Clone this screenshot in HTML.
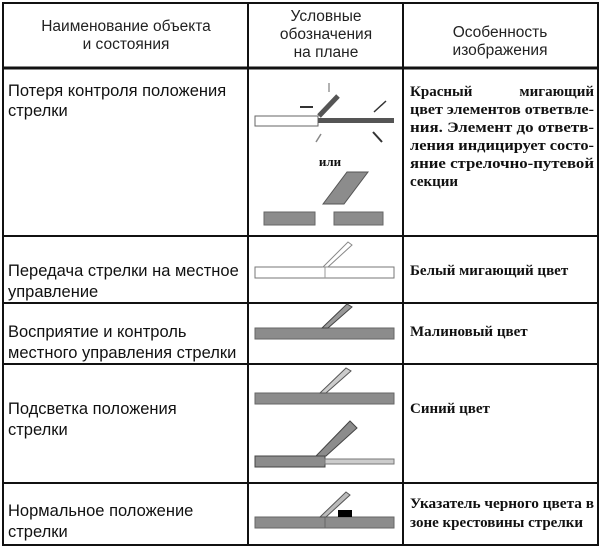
<!DOCTYPE html>
<html><head><meta charset="utf-8"><style>
html,body{margin:0;padding:0;background:#fff}
svg{display:block}
.h{font-family:"Liberation Sans","DejaVu Sans",sans-serif;font-size:15.5px;fill:#222}
.a{font-family:"Liberation Sans","DejaVu Sans",sans-serif;font-size:16.5px;fill:#111}
.c{font-family:"Liberation Serif","DejaVu Serif",serif;font-size:15px;font-weight:bold;fill:#111}
</style></head><body>
<svg width="602" height="548" viewBox="0 0 602 548" xmlns="http://www.w3.org/2000/svg">
<rect width="602" height="548" fill="#fff"/>
<g stroke="#111" stroke-width="2" fill="none">
<rect x="3" y="3" width="595" height="542"/>
<line x1="248" y1="3" x2="248" y2="545"/>
<line x1="403" y1="3" x2="403" y2="545"/>
<line x1="3" y1="68" x2="598" y2="68" stroke-width="3"/>
<line x1="3" y1="236" x2="598" y2="236"/>
<line x1="3" y1="303" x2="598" y2="303"/>
<line x1="3" y1="364" x2="598" y2="364"/>
<line x1="3" y1="483" x2="598" y2="483"/>
</g>
<g class="h" text-anchor="middle">
<text x="126" y="31">Наименование объекта</text>
<text x="126" y="49">и состояния</text>
<text x="326" y="21">Условные</text>
<text x="326" y="39">обозначения</text>
<text x="326" y="57">на плане</text>
<text x="500" y="37">Особенность</text>
<text x="500" y="55">изображения</text>
</g>
<g class="a">
<text x="8" y="96">Потеря контроля положения</text>
<text x="8" y="116">стрелки</text>
<text x="8" y="276">Передача стрелки на местное</text>
<text x="8" y="297">управление</text>
<text x="8" y="337">Восприятие и контроль</text>
<text x="8" y="358">местного управления стрелки</text>
<text x="8" y="414">Подсветка положения</text>
<text x="8" y="435">стрелки</text>
<text x="8" y="516">Нормальное положение</text>
<text x="8" y="537">стрелки</text>
</g>
<g class="c">
<text x="410" y="96">Красный</text>
<text x="594" y="96" text-anchor="end">мигающий</text>
<text x="410" y="114" textLength="184" lengthAdjust="spacingAndGlyphs">цвет элементов ответвле-</text>
<text x="410" y="132" textLength="184" lengthAdjust="spacingAndGlyphs">ния. Элемент до ответв-</text>
<text x="410" y="150" textLength="184" lengthAdjust="spacingAndGlyphs">ления индицирует состо-</text>
<text x="410" y="168" textLength="184" lengthAdjust="spacingAndGlyphs">яние стрелочно-путевой</text>
<text x="410" y="186">секции</text>
<text x="410" y="275">Белый мигающий цвет</text>
<text x="410" y="336">Малиновый цвет</text>
<text x="410" y="413">Синий цвет</text>
<text x="410" y="508" textLength="184" lengthAdjust="spacingAndGlyphs">Указатель черного цвета в</text>
<text x="410" y="527">зоне крестовины стрелки</text>
</g>
<rect x="255" y="116" width="63" height="10" fill="#fff" stroke="#666" stroke-width="1"/>
<rect x="318" y="118" width="76" height="5" fill="#555"/>
<line x1="319" y1="116" x2="338" y2="96" stroke="#555" stroke-width="5"/>
<g stroke="#333" stroke-width="1.5">
<line x1="300" y1="107" x2="313" y2="107" stroke-width="2"/>
<line x1="329" y1="83" x2="329" y2="92" stroke="#999"/>
<line x1="374" y1="112" x2="386" y2="101"/>
<line x1="373" y1="132" x2="382" y2="142" stroke-width="2"/>
<line x1="316" y1="142" x2="321" y2="134" stroke="#888"/>
</g>
<text x="330" y="166" text-anchor="middle" class="c" style="font-size:13px">или</text>
<polygon points="323,204 347,172 368,172 344,204" fill="#8c8c8c" stroke="#555" stroke-width="1"/>
<rect x="264" y="212" width="51" height="13" fill="#8c8c8c" stroke="#666" stroke-width="1"/>
<rect x="334" y="212" width="49" height="13" fill="#8c8c8c" stroke="#666" stroke-width="1"/>
<rect x="255" y="267" width="139" height="11" fill="#fff" stroke="#777" stroke-width="1"/>
<line x1="325" y1="267" x2="325" y2="278" stroke="#999" stroke-width="1"/>
<polygon points="323,267 348,242 352,245 328,267" fill="#fff" stroke="#888" stroke-width="1"/>
<rect x="255" y="328" width="139" height="11" fill="#8c8c8c" stroke="#666" stroke-width="1"/>
<polygon points="322,328 347,304 352,307 328,328" fill="#999" stroke="#444" stroke-width="1"/>
<rect x="255" y="393" width="139" height="11" fill="#8c8c8c" stroke="#666" stroke-width="1"/>
<polygon points="320,393 346,368 351,371 326,393" fill="#ccc" stroke="#555" stroke-width="1"/>
<rect x="255" y="456" width="70" height="11" fill="#8c8c8c" stroke="#444" stroke-width="1"/>
<rect x="325" y="459" width="69" height="5" fill="#ccc" stroke="#777" stroke-width="1"/>
<polygon points="316,456 326,456 357,428 350,421" fill="#8c8c8c" stroke="#444" stroke-width="1"/>
<rect x="255" y="517" width="139" height="11" fill="#8c8c8c" stroke="#666" stroke-width="1"/>
<line x1="325" y1="517" x2="325" y2="528" stroke="#666" stroke-width="1"/>
<polygon points="320,517 346,492 350,495 326,517" fill="#bbb" stroke="#555" stroke-width="1"/>
<rect x="338" y="510" width="14" height="7" fill="#000"/>
</svg>
</body></html>
